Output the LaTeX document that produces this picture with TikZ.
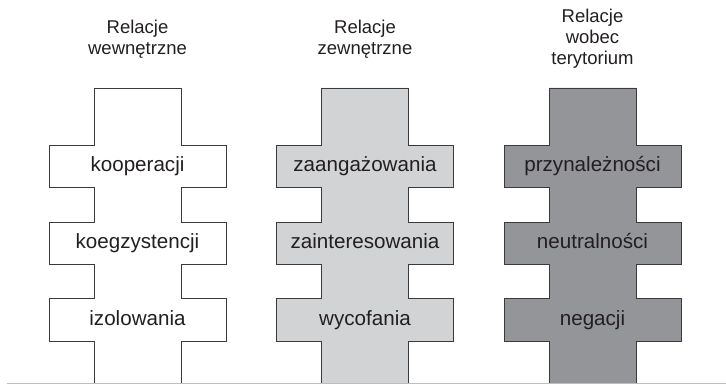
\documentclass[tikz,border=0pt]{standalone}
\usepackage{fontspec}
\setmainfont{Liberation Sans}
\definecolor{lightfill}{HTML}{D1D3D4}
\definecolor{darkfill}{HTML}{939598}
\definecolor{outlinecol}{HTML}{3A3A3C}
\definecolor{textcol}{HTML}{231F20}
\definecolor{basecol}{HTML}{BCBEC0}
\tikzset{
  outl/.style={draw=outlinecol, line width=0.9pt, line join=miter},
  crossshape/.pic={
    \fill[pic actions] (-43.5,383) -- (-43.5,341) -- (-88.5,341) -- (-88.5,298.5) -- (-43.5,298.5)
      -- (-43.5,264) -- (-88.5,264) -- (-88.5,222.5) -- (-43.5,222.5)
      -- (-43.5,187.5) -- (-88.5,187.5) -- (-88.5,145.5) -- (-43.5,145.5)
      -- (-43.5,88) -- (43.5,88) -- (43.5,145.5) -- (88.5,145.5) -- (88.5,187.5) -- (43.5,187.5)
      -- (43.5,222.5) -- (88.5,222.5) -- (88.5,264) -- (43.5,264)
      -- (43.5,298.5) -- (88.5,298.5) -- (88.5,341) -- (43.5,341) -- (43.5,383) -- cycle;
    \draw[outl] (-43.5,383) -- (-43.5,341) -- (-88.5,341) -- (-88.5,298.5) -- (-43.5,298.5)
      -- (-43.5,264) -- (-88.5,264) -- (-88.5,222.5) -- (-43.5,222.5)
      -- (-43.5,187.5) -- (-88.5,187.5) -- (-88.5,145.5) -- (-43.5,145.5)
      -- (-43.5,88) -- (43.5,88) -- (43.5,145.5) -- (88.5,145.5) -- (88.5,187.5) -- (43.5,187.5)
      -- (43.5,222.5) -- (88.5,222.5) -- (88.5,264) -- (43.5,264)
      -- (43.5,298.5) -- (88.5,298.5) -- (88.5,341) -- (43.5,341) -- (43.5,383);
  },
  title/.style={anchor=base, align=center, text=textcol, inner sep=0pt,
    font=\fontsize{18.5}{21}\selectfont},
  lab/.style={anchor=base, text=textcol, inner sep=0pt,
    font=\fontsize{20.6}{24}\selectfont},
  baseline line/.style={draw=basecol, line width=1.2pt}
}
\begin{document}
\begin{tikzpicture}[x=1pt,y=-1pt]
\useasboundingbox (0,0) rectangle (726,385);
% shapes
\pic[fill=white] at (137.5,0) {crossshape};
\pic[fill=lightfill] at (365,0) {crossshape};
\pic[fill=darkfill] at (592.5,0) {crossshape};
% baseline
\coordinate (bl) at (7,383.5);
\coordinate (br) at (726,383.5);
\draw[baseline line] (bl) -- (br);
% titles (anchor = baseline of last line)
\node[title] (t1) at (137.5,54.3) {Relacje\\wewnętrzne};
\node[title] (t2) at (365,54.3) {Relacje\\zewnętrzne};
\node[title] (t3) at (592.5,65) {Relacje\\wobec\\terytorium};
% labels
\node[lab] (a1) at (137.5,171.8) {kooperacji};
\node[lab] (a2) at (137.5,248.5) {koegzystencji};
\node[lab] (a3) at (137.5,325.5) {izolowania};
\node[lab] (b1) at (365,171.8) {zaangażowania};
\node[lab] (b2) at (365,248.5) {zainteresowania};
\node[lab] (b3) at (365,325.5) {wycofania};
\node[lab] (c1) at (592.5,171.8) {przynależności};
\node[lab] (c2) at (592.5,248.5) {neutralności};
\node[lab] (c3) at (592.5,325.5) {negacji};
\end{tikzpicture}
\end{document}
